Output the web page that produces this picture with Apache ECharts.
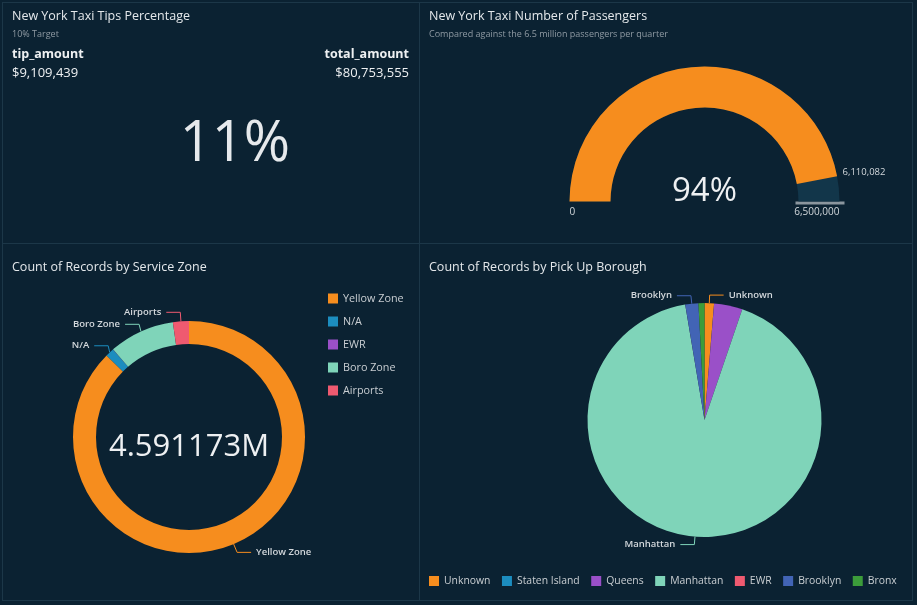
<!DOCTYPE html>
<html>
<head>
<meta charset="utf-8">
<script src="https://cdn.jsdelivr.net/npm/echarts@6/dist/echarts.min.js"></script>
<style>
  html, body { margin: 0; padding: 0; background: #0b2232; }
  #board { position: absolute; left: 2px; top: 2px; width: 911px; height: 599px; background: #1c3748; }
  .panel { position: absolute; background: #0b2232; }
</style>
</head>
<body>
<div id="board">
  <div class="panel" id="tips" style="left:1px;top:1px;width:416px;height:240px"></div>
  <div class="panel" id="passengers" style="left:418px;top:1px;width:492px;height:240px"></div>
  <div class="panel" id="zone" style="left:1px;top:242px;width:416px;height:356px"></div>
  <div class="panel" id="borough" style="left:418px;top:242px;width:492px;height:356px"></div>
</div>
<script>
// values
const tipAmount = 9109439;
const totalAmount = 80753555;
const passengerCount = 6110082;
const passengerTarget = 6500000;

const zoneNames = ['Yellow Zone', 'N/A', 'EWR', 'Boro Zone', 'Airports'];
const zoneCounts = [4013673, 55000, 500, 420000, 102000];
const zoneLabelled = [true, true, false, true, true];

const boroughNames = ['Unknown', 'Staten Island', 'Queens', 'Manhattan', 'EWR', 'Brooklyn', 'Bronx'];
const boroughCounts = [60000, 300, 180000, 4229473, 400, 83000, 38000];
const boroughLabelled = [true, false, false, true, false, true, false];

// styles
const zoneColors = ['#f68d1e', '#1c8dbf', '#9a50c8', '#7fd4b9', '#ef5a70'];
const boroughColors = ['#f68d1e', '#1c8dbf', '#9a50c8', '#7fd4b9', '#ef5a70', '#4264b5', '#3c9c3a'];
const FONT = '"Open Sans", "Noto Sans", sans-serif';
const titleStyle = { color: '#e4e8eb', fontSize: 12.5, fontWeight: 'normal', fontFamily: FONT };
const subStyle = { color: '#8f9aa3', fontSize: 9, fontFamily: FONT };
const labelColor = '#d3d8dc';

const fmt = n => Number(n).toLocaleString('en-US');

// --- KPI: tips percentage
let tips = echarts.init(document.getElementById('tips'));
tips.setOption({
  textStyle: { fontFamily: FONT },
  title: [
    { text: 'New York Taxi Tips Percentage', subtext: '10% Target', left: 9, top: 7, itemGap: 7, padding: 0,
      textStyle: titleStyle, subtextStyle: subStyle },
    { text: 'tip_amount', left: 9, top: 45, padding: 0,
      textStyle: { color: '#eef0f2', fontSize: 12.5, fontWeight: 'bold', fontFamily: FONT } },
    { text: '$' + fmt(tipAmount), left: 9, top: 64, padding: 0,
      textStyle: { color: '#eef0f2', fontSize: 13, fontWeight: 'normal', fontFamily: FONT } },
    { text: 'total_amount', right: 10, top: 45, padding: 0,
      textStyle: { color: '#eef0f2', fontSize: 12.5, fontWeight: 'bold', fontFamily: FONT } },
    { text: '$' + fmt(totalAmount), right: 10, top: 64, padding: 0,
      textStyle: { color: '#eef0f2', fontSize: 13, fontWeight: 'normal', fontFamily: FONT } },
    { text: Math.round(tipAmount / totalAmount * 100) + '%', left: 232, textAlign: 'center', top: 114, padding: 0,
      textStyle: { color: '#e6e9ec', fontSize: 56, fontWeight: 'normal', fontFamily: FONT } }
  ]
});

// --- gauge: passengers
const gCx = 284.5, gCy = 198.5, gR = 135;
let passengers = echarts.init(document.getElementById('passengers'));
passengers.setOption({
  textStyle: { fontFamily: FONT },
  title: { text: 'New York Taxi Number of Passengers', subtext: 'Compared against the 6.5 million passengers per quarter',
    left: 9, top: 7, itemGap: 7, padding: 0, textStyle: titleStyle, subtextStyle: subStyle },
  graphic: [{
    type: 'line',
    shape: { x1: gCx + gR - 44, y1: gCy + 1.5, x2: gCx + gR + 5, y2: gCy + 1.5 },
    style: { stroke: '#8b969e', lineWidth: 3 }
  }],
  series: [{
    type: 'gauge',
    center: [gCx, gCy],
    radius: gR,
    startAngle: 180,
    endAngle: 0,
    min: 0,
    max: passengerTarget,
    splitNumber: 1,
    progress: { show: true, width: 41, itemStyle: { color: '#f68d1e' } },
    axisLine: { lineStyle: { width: 41, color: [[1, '#12364a']] } },
    pointer: { show: false },
    anchor: { show: false },
    axisTick: { show: false },
    splitLine: { show: false, length: 0, distance: 0 },
    axisLabel: { distance: 0, color: labelColor, fontSize: 10, lineHeight: 22, formatter: v => '\n' + fmt(v) },
    title: { offsetCenter: [159.5, -29.5], color: labelColor, fontSize: 9.5 },
    detail: { offsetCenter: [0, -10], fontSize: 33, color: '#eef0f2', fontWeight: 'normal',
      formatter: v => Math.round(v / passengerTarget * 100) + '%' },
    data: [{ value: passengerCount, name: fmt(passengerCount) }]
  }]
});

// --- donut: service zone
const zoneTotal = zoneCounts.reduce((a, b) => a + b, 0);
let zone = echarts.init(document.getElementById('zone'));
zone.setOption({
  textStyle: { fontFamily: FONT },
  title: [
    { text: 'Count of Records by Service Zone', left: 9, top: 17, padding: 0, textStyle: titleStyle },
    { text: (zoneTotal / 1e6) + 'M', left: 186, textAlign: 'center', top: 188, padding: 0,
      textStyle: { color: '#eef0f2', fontSize: 31, fontWeight: 'normal', fontFamily: FONT } }
  ],
  legend: {
    orient: 'vertical', left: 325, top: 49, padding: 0, icon: 'rect', itemWidth: 10, itemHeight: 10, itemGap: 12,
    selectedMode: false,
    textStyle: { color: '#c9ced2', fontSize: 10.8, fontFamily: FONT },
    data: zoneNames
  },
  series: [{
    type: 'pie',
    center: [186, 193],
    radius: [93, 116],
    startAngle: 90,
    clockwise: true,
    label: { color: labelColor, fontSize: 9.5, fontWeight: 600 },
    labelLine: { length: 9, length2: 14, lineStyle: { width: 1 } },
    data: zoneNames.map((n, i) => ({
      name: n, value: zoneCounts[i],
      itemStyle: { color: zoneColors[i] },
      label: { show: zoneLabelled[i] }, labelLine: { show: zoneLabelled[i] }
    }))
  }]
});

// --- pie: pick up borough
let borough = echarts.init(document.getElementById('borough'));
borough.setOption({
  textStyle: { fontFamily: FONT },
  title: { text: 'Count of Records by Pick Up Borough', left: 9, top: 17, padding: 0, textStyle: titleStyle },
  legend: {
    left: 9, right: 0, top: 332, padding: 0, icon: 'rect', itemWidth: 10, itemHeight: 10, itemGap: 11.5,
    selectedMode: false,
    textStyle: { color: '#c9ced2', fontSize: 10.4, fontFamily: FONT },
    data: boroughNames
  },
  series: [{
    type: 'pie',
    center: [284.5, 176],
    radius: 117,
    startAngle: 90,
    clockwise: true,
    label: { color: labelColor, fontSize: 9.5, fontWeight: 600 },
    labelLine: { length: 8, length2: 14, lineStyle: { width: 1 } },
    data: boroughNames.map((n, i) => ({
      name: n, value: boroughCounts[i],
      itemStyle: { color: boroughColors[i] },
      label: { show: boroughLabelled[i] }, labelLine: { show: boroughLabelled[i] }
    }))
  }]
});
</script>
</body>
</html>
